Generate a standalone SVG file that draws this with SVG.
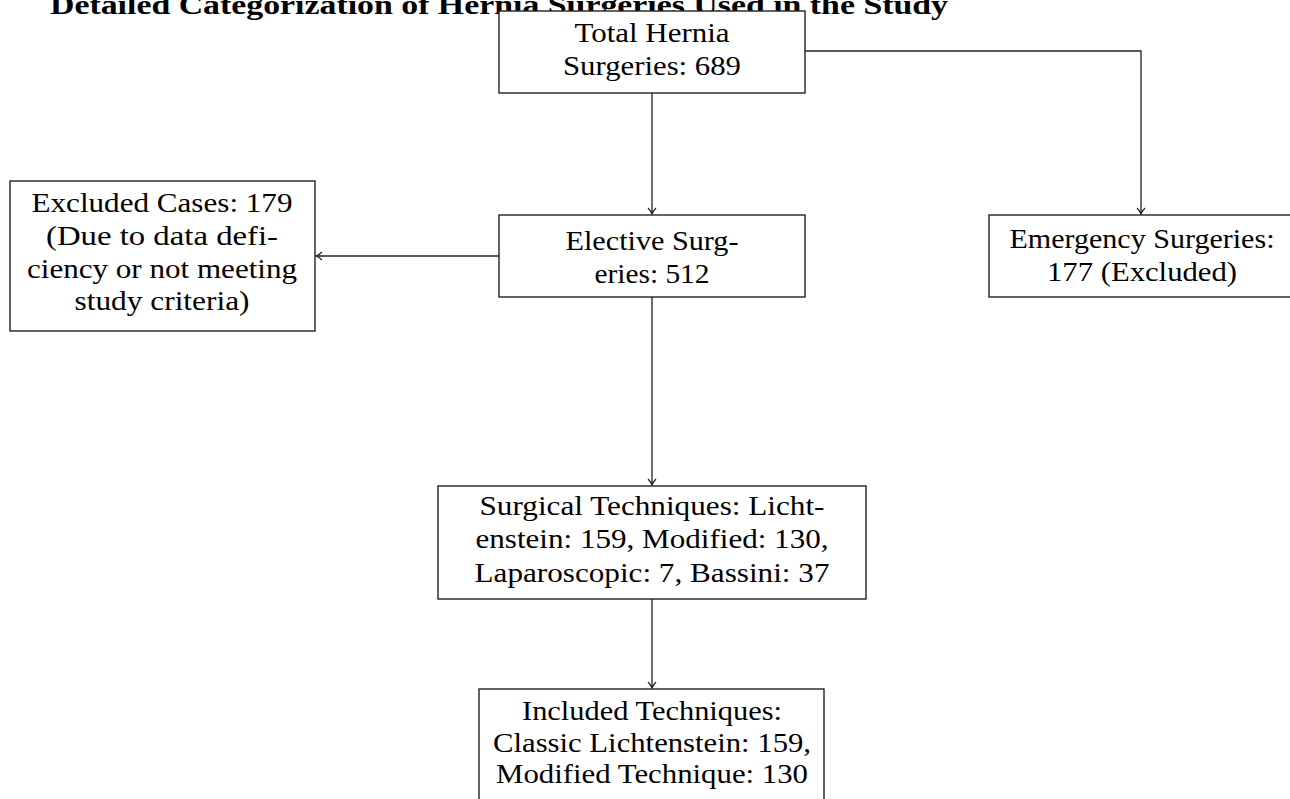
<svg xmlns="http://www.w3.org/2000/svg" width="1290" height="799" viewBox="0 0 1290 799">
<defs>
<style>
.box{fill:#fff;stroke:#222;stroke-width:1.4}
.t{font-family:"Liberation Serif","Times New Roman",serif;font-size:27px;fill:#000;text-anchor:middle}
.title{font-family:"Liberation Serif","Times New Roman",serif;font-size:28px;font-weight:bold;fill:#000}
.c{fill:none;stroke:#222;stroke-width:1.3}
</style>
<marker id="ah" markerWidth="12" markerHeight="12" refX="9" refY="6" orient="auto" markerUnits="userSpaceOnUse">
<path d="M3,2 Q6,5 9,6 Q6,7 3,10" fill="none" stroke="#222" stroke-width="1.2"/>
</marker>
</defs>
<rect width="1290" height="799" fill="#fff"/>
<text class="title" x="50" y="14" textLength="898" lengthAdjust="spacingAndGlyphs">Detailed Categorization of Hernia Surgeries Used in the Study</text>
<g id="connectors">
<path class="c" d="M652,93 V214" marker-end="url(#ah)"/>
<path class="c" d="M805,51 H1141 V214" marker-end="url(#ah)"/>
<path class="c" d="M499,256 H316" marker-end="url(#ah)"/>
<path class="c" d="M652,297 V485" marker-end="url(#ah)"/>
<path class="c" d="M652,599 V688" marker-end="url(#ah)"/>
</g>
<g id="total">
<rect class="box" x="499" y="11" width="306" height="82"/>
<text class="t" x="652" y="42" textLength="155" lengthAdjust="spacingAndGlyphs">Total Hernia</text>
<text class="t" x="652" y="75" textLength="178" lengthAdjust="spacingAndGlyphs">Surgeries: 689</text>
</g>
<g id="elective">
<rect class="box" x="499" y="215" width="306" height="82"/>
<text class="t" x="652" y="250" textLength="173" lengthAdjust="spacingAndGlyphs">Elective Surg-</text>
<text class="t" x="652" y="283" textLength="115" lengthAdjust="spacingAndGlyphs">eries: 512</text>
</g>
<g id="excluded">
<rect class="box" x="10" y="181" width="305" height="150"/>
<text class="t" x="162" y="212" textLength="261" lengthAdjust="spacingAndGlyphs">Excluded Cases: 179</text>
<text class="t" x="162" y="245" textLength="232" lengthAdjust="spacingAndGlyphs">(Due to data defi-</text>
<text class="t" x="162" y="278" textLength="270" lengthAdjust="spacingAndGlyphs">ciency or not meeting</text>
<text class="t" x="162" y="310" textLength="175" lengthAdjust="spacingAndGlyphs">study criteria)</text>
</g>
<g id="emergency">
<rect class="box" x="989" y="215" width="306" height="82"/>
<text class="t" x="1142" y="248" textLength="265" lengthAdjust="spacingAndGlyphs">Emergency Surgeries:</text>
<text class="t" x="1142" y="281" textLength="190" lengthAdjust="spacingAndGlyphs">177 (Excluded)</text>
</g>
<g id="techniques">
<rect class="box" x="438" y="486" width="428" height="113"/>
<text class="t" x="652" y="515" textLength="345" lengthAdjust="spacingAndGlyphs">Surgical Techniques: Licht-</text>
<text class="t" x="652" y="548" textLength="353" lengthAdjust="spacingAndGlyphs">enstein: 159, Modified: 130,</text>
<text class="t" x="652" y="582" textLength="355" lengthAdjust="spacingAndGlyphs">Laparoscopic: 7, Bassini: 37</text>
</g>
<g id="included">
<rect class="box" x="479" y="689" width="345" height="125"/>
<text class="t" x="652" y="720" textLength="260" lengthAdjust="spacingAndGlyphs">Included Techniques:</text>
<text class="t" x="652" y="752" textLength="318" lengthAdjust="spacingAndGlyphs">Classic Lichtenstein: 159,</text>
<text class="t" x="652" y="783" textLength="312" lengthAdjust="spacingAndGlyphs">Modified Technique: 130</text>
</g>
</svg>
